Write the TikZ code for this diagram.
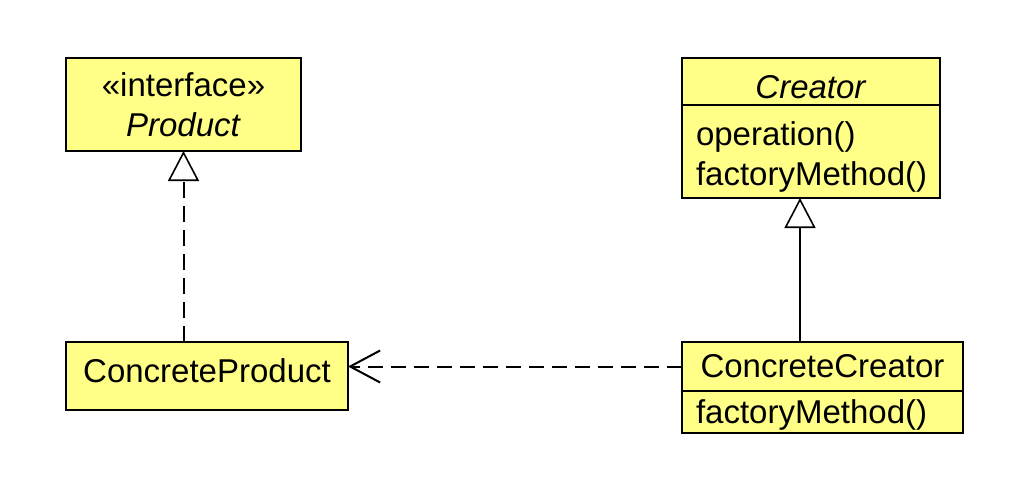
\documentclass[tikz,border=0pt]{standalone}
\usepackage{fontspec}
\setmainfont{Liberation Sans}
\usepackage{tikz}
\usetikzlibrary{positioning,arrows.meta}
\definecolor{classfill}{RGB}{255,255,136}
\tikzset{
    classbox/.style={
           rectangle,
           draw=black, line width=1.6pt,
           fill=classfill,
           outer sep=0pt,
           inner sep=0pt,
           text centered,
           },
    opsbox/.style={
           classbox,
           align=left,
           inner xsep=14pt,
           },
    realize/.style={
           line width=2pt,
           dash pattern=on 16pt off 8pt,
           -{Triangle[open, length=30pt, width=31pt, fill=white, line width=1.6pt]},
           },
    inherit/.style={
           line width=2pt,
           -{Triangle[open, length=30pt, width=31pt, fill=white, line width=1.6pt]},
           },
    depend/.style={
           line width=2pt,
           dash pattern=on 15pt off 8pt,
           -{Straight Barb[length=30pt, width=32pt]},
           },
}

\begin{document}
\begin{tikzpicture}[x=1pt, y=1pt, font=\fontsize{33}{40}\selectfont]
    \useasboundingbox (0,0) rectangle (1032,488);

    % Interface: Product
    \node[classbox, align=center,
    minimum width=235pt, minimum height=93pt] (prod) 	% interface box
    at (183.5,383.5) {«interface»\\\textit{Product}};

    % Abstract class: Creator (name + operations)
    \node[classbox,
    text height=34pt, text depth=0pt, 	% name sits a bit low
    minimum width=258pt, minimum height=47pt] (crt-head)
    at (811,406.5) {\textit{Creator}};
    \node[opsbox,
    text width=230pt, text depth=35pt, minimum height=93pt,
    below=0pt of crt-head] (crt-body)
    {operation()\\factoryMethod()};

    % Concrete classes
    \node[classbox,
    text depth=10pt, 	% name sits a bit high
    minimum width=282pt, minimum height=68pt] (cprod)
    at (207,112) {ConcreteProduct};

    \node[classbox,
    minimum width=281pt, minimum height=49pt] (ccr-head)
    at (822.5,121.5) {ConcreteCreator};
    \node[opsbox,
    text width=253pt, text depth=0pt, minimum height=42pt,
    below=0pt of ccr-head] (ccr-body)
    {factoryMethod()};

    % draw the relations between the classes
    \coordinate (gen-top) at ([xshift=-11pt]crt-body.south);
    \draw[realize] (prod.south |- cprod.north) -- (prod.south);
    \draw[inherit] (gen-top |- ccr-head.north) -- (gen-top);
    \draw[depend] (ccr-head.west) -- (ccr-head.west -| cprod.east);
\end{tikzpicture}
\end{document}
